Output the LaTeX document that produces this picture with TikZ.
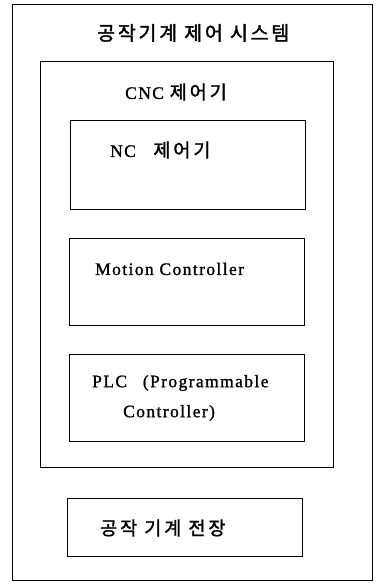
\documentclass[tikz,border=0pt]{standalone}
\usepackage{fontspec}
\setmainfont[LetterSpace=8,FakeBold=1.2]{Liberation Serif}
\newfontfamily\kr[LetterSpace=16,FakeBold=1.6]{Noto Sans CJK KR}
\newfontfamily\krt[LetterSpace=14,FakeBold=1.6]{Noto Sans CJK KR}
\begin{document}
\begin{tikzpicture}[x=1pt,y=1pt,
  box/.style={draw=black,line width=0.9pt},
  lbl/.style={inner sep=0pt,font=\fontsize{17.5}{20}\selectfont},
  klbl/.style={inner sep=0pt,font=\fontsize{18.5}{20}\selectfont\kr}]
\useasboundingbox (0,0) rectangle (378,585);
\fill[white] (0,0) rectangle (378,585);
% boxes
\node[box,inner sep=0pt,minimum width=360pt,minimum height=576pt,anchor=south west] (outer) at (12,4) {};
\node[box,inner sep=0pt,minimum width=293pt,minimum height=406pt,anchor=south west] (cnc) at (40,117) {};
\node[box,inner sep=0pt,minimum width=235pt,minimum height=89pt,anchor=south west] (nc) at (70,375) {};
\node[box,inner sep=0pt,minimum width=235pt,minimum height=87pt,anchor=south west] (motion) at (69,259) {};
\node[box,inner sep=0pt,minimum width=235pt,minimum height=87pt,anchor=south west] (plc) at (69,143) {};
\node[box,inner sep=0pt,minimum width=235pt,minimum height=58pt,anchor=south west] (elec) at (67,28) {};
% labels
\node[inner sep=0pt,anchor=west,font=\fontsize{19.5}{20}\selectfont\krt] (title) at (97,552) {공작기계 제어 시스템};
\node[lbl,anchor=west] (cnclbl) at (125,493) {CNC {\fontsize{18.5}{20}\selectfont\kr 제어기}};
\node[lbl,anchor=west] (nclbl) at (110,435) {NC\hspace{1em}{\fontsize{18.5}{20}\selectfont\kr 제어기}};
\node[lbl,anchor=west] (motionlbl) at (95,316) {Motion Controller};
\node[lbl,anchor=west] (plclbl1) at (92,202) {PLC\hspace{0.9em}(Programmable};
\node[lbl,anchor=west] (plclbl2) at (123,172) {Controller)};
\node[klbl,anchor=west] (eleclbl) at (100,57) {공작 기계 전장};
\end{tikzpicture}
\end{document}
